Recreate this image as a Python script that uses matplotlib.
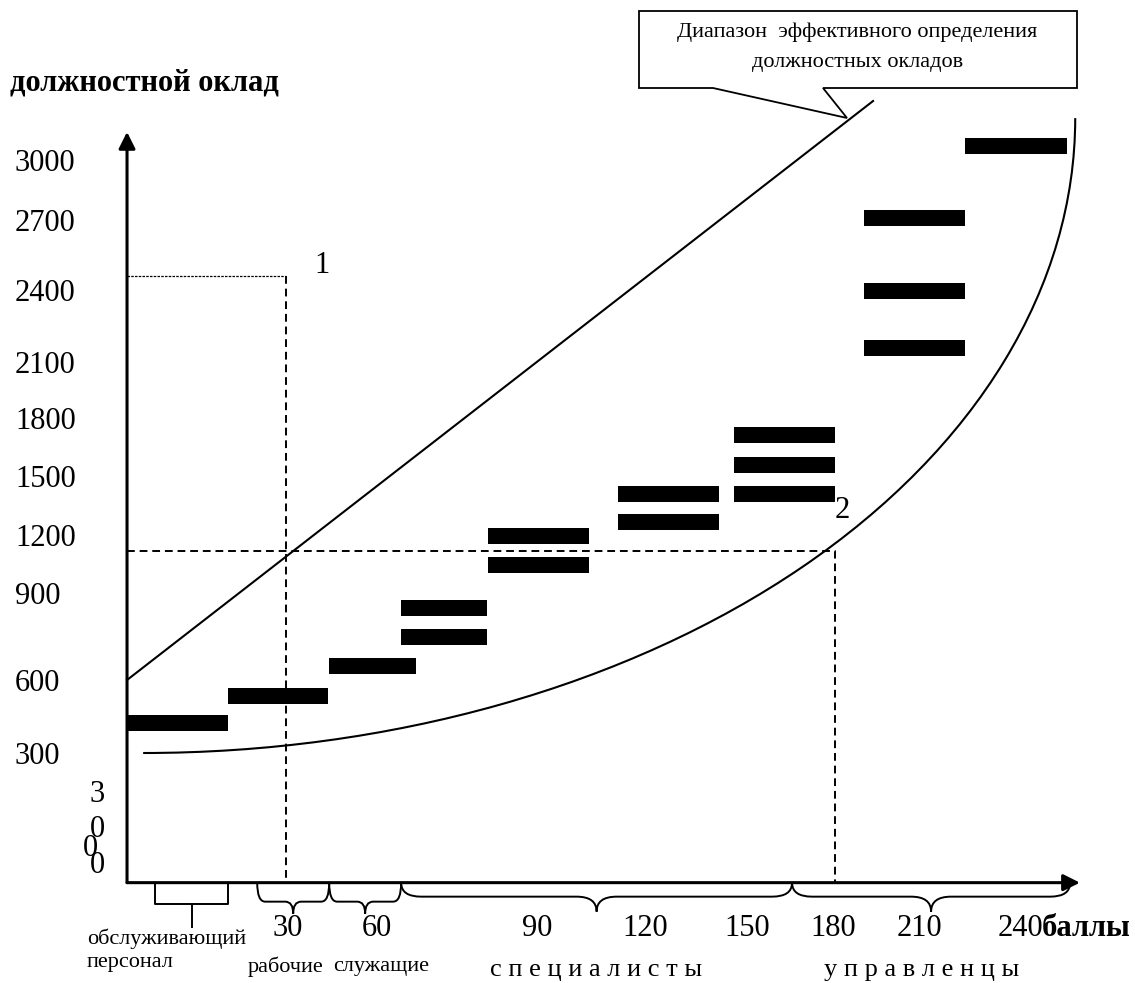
import matplotlib.pyplot as plt
from matplotlib.patches import Arc, Polygon, PathPatch
from matplotlib.path import Path

# grade bars: salary level and range of points (баллы)
levels = [434, 561, 694, 826, 958, 1156, 1288, 1352, 1481, 1481, 1613, 1748, 2144, 2403, 2736, 3064]
bar_from = [0, 25.7, 51.4, 69.7, 69.7, 91.8, 91.8, 124.8, 124.8, 154.3, 154.3, 154.3, 187.4, 187.4, 187.4, 213.1]
bar_to = [25.7, 51.1, 73.5, 91.5, 91.5, 117.5, 117.5, 150.5, 150.5, 180.0, 180.0, 180.0, 213.1, 213.1, 213.1, 239.0]

# upper boundary of the range (straight line), lower boundary (elliptic arc)
upper_b = [0, 189.7]
upper_s = [632, 3269]
arc_center = (4.1, 3191)
arc_size = (474, 5783)

# marked points 1 and 2
point1 = (40.4, 2472)
point2 = (180.0, 1220)

y_labels = ["3000", "2700", "2400", "2100", "1800", "1500", "1200", "900", "600", "300"]
x_labels = ["30", "60", "90", "120", "150", "180", "210", "240"]

groups = ["обслуживающий\nперсонал", "рабочие", "служащие",
          "с п е ц и а л и с т ы", "у п р а в л е н ц ы"]
group_from = [7.1, 33.1, 51.4, 69.7, 169.1]
group_to = [25.7, 51.4, 69.7, 169.1, 239.8]

# layout (data units: x = баллы, y = оклад)
y_label_at = [3000, 2727, 2408, 2080, 1825, 1562, 1293, 1029, 633, 300]
x_label_at = [40.9, 63.6, 104.2, 131.7, 157.6, 179.5, 201.6, 227.1]
group_label_x = [-10.2, 40.3, 64.6, 119.2, 202.0]
group_label_y = [-600, -675, -675, -689, -689]
AXIS_Y = -291
UX = 1 / 3.933   # data units per pixel, x
UY = 1 / 0.2196  # data units per pixel, y

plt.rcParams['font.family'] = ['Liberation Serif', 'DejaVu Serif']

fig = plt.figure(figsize=(11.35, 9.83), dpi=100)
ax = fig.add_axes([0, 0, 1, 1])
ax.set_xlim(-32.3, 256.3)
ax.set_ylim(-748, 3729)
ax.axis("off")

# bars
ax.barh(levels, [t - f for f, t in zip(bar_from, bar_to)], left=bar_from,
        height=16 * UY, color="black", zorder=3)

# boundaries
ax.plot(upper_b, upper_s, color="black", lw=1.5)
ax.add_patch(Arc(arc_center, arc_size[0], arc_size[1], theta1=270, theta2=360,
                 color="black", lw=1.5))

# guide lines to points 1 and 2
ax.plot([0, point1[0]], [point1[1], point1[1]], color="black", lw=0.9, ls=(0, (2, 1)))
ax.plot([point1[0], point1[0]], [point1[1], AXIS_Y], color="black", lw=1.4, ls=(0, (4, 2.5)))
ax.plot([0, point2[0], point2[0]], [point2[1], point2[1], AXIS_Y], color="black", lw=1.4,
        ls=(0, (4, 2.5)))
ax.text(point1[0] + 9.2, point1[1] + 50, "1", fontsize=22, ha="center", va="center")
ax.text(point2[0] + 1.8, point2[1] + 186, "2", fontsize=22, ha="center", va="center")

# axes with arrows
arrow = dict(arrowstyle="-|>,head_length=1.0,head_width=0.5", lw=2.2, color="black",
             shrinkA=0, shrinkB=0)
ax.annotate("", xy=(0, 3128), xytext=(0, AXIS_Y), arrowprops=arrow)
ax.annotate("", xy=(242.3, AXIS_Y), xytext=(0, AXIS_Y), arrowprops=arrow)

for lab, y in zip(y_labels, y_label_at):
    ax.text(-28.5, y, lab, fontsize=22, ha="left", va="center_baseline")
for lab, x in zip(x_labels, x_label_at):
    ax.text(x, -483, lab, fontsize=22, ha="center", va="center_baseline")
ax.text(232.7, -483, "баллы", fontsize=22, fontweight="bold", ha="left", va="center_baseline")
ax.text(-7.6, -50, "3\n0\n0", fontsize=22, ha="center", va="center", linespacing=1.3)
ax.text(-9.4, -119, "0", fontsize=22, ha="center", va="center_baseline")

ax.text(0.0088, 0.9156, "должностной оклад", transform=ax.transAxes, fontsize=22,
        fontweight="bold", ha="left", va="center")

# group brackets below the x axis
def brace(x1, x2, depth, tip, r):
    xm = (x1 + x2) / 2
    yh = AXIS_Y - depth * UY
    yt = yh - tip * UY
    rx = r * UX
    verts = [(x1, AXIS_Y), (x1, yh), (x1 + rx, yh), (xm - rx, yh), (xm, yh), (xm, yt),
             (xm, yh), (xm + rx, yh), (x2 - rx, yh), (x2, yh), (x2, AXIS_Y)]
    codes = [Path.MOVETO, Path.CURVE3, Path.CURVE3, Path.LINETO, Path.CURVE3, Path.CURVE3,
             Path.CURVE3, Path.CURVE3, Path.LINETO, Path.CURVE3, Path.CURVE3]
    ax.add_patch(PathPatch(Path(verts, codes), fill=False, lw=1.4, color="black"))

for i in range(len(groups)):
    x1, x2 = group_from[i], group_to[i]
    if i == 0:
        yb = AXIS_Y - 21 * UY
        ax.plot([x1, x1, x2, x2], [AXIS_Y, yb, yb, AXIS_Y], color="black", lw=1.4)
        ax.plot([(x1 + x2) / 2] * 2, [yb, yb - 23 * UY], color="black", lw=1.4)
    elif i < 3:
        brace(x1, x2, 19, 12, 8)
    else:
        brace(x1, x2, 14, 15, 20)
    if i == 0:
        ax.text(group_label_x[i], group_label_y[i], groups[i], fontsize=16, ha="left",
                va="center", linespacing=1.3)
    else:
        ax.text(group_label_x[i], group_label_y[i], groups[i], fontsize=16 if i < 3 else 19,
                ha="center", va="center")

# callout
W, H = 1135, 983
callout_px = [(639, 11), (1077, 11), (1077, 88), (823, 88), (847, 118), (713, 88), (639, 88)]
ax.add_patch(Polygon([(x / W, 1 - y / H) for x, y in callout_px], closed=True,
                     transform=ax.transAxes, facecolor="white", edgecolor="black", lw=1.3,
                     zorder=4))
ax.text(857.5 / W, 1 - 47.5 / H, "Диапазон  эффективного определения\nдолжностных окладов",
        transform=ax.transAxes, fontsize=16, ha="center", va="center", linespacing=1.75,
        zorder=5)

fig.savefig("out.png", dpi=100)
